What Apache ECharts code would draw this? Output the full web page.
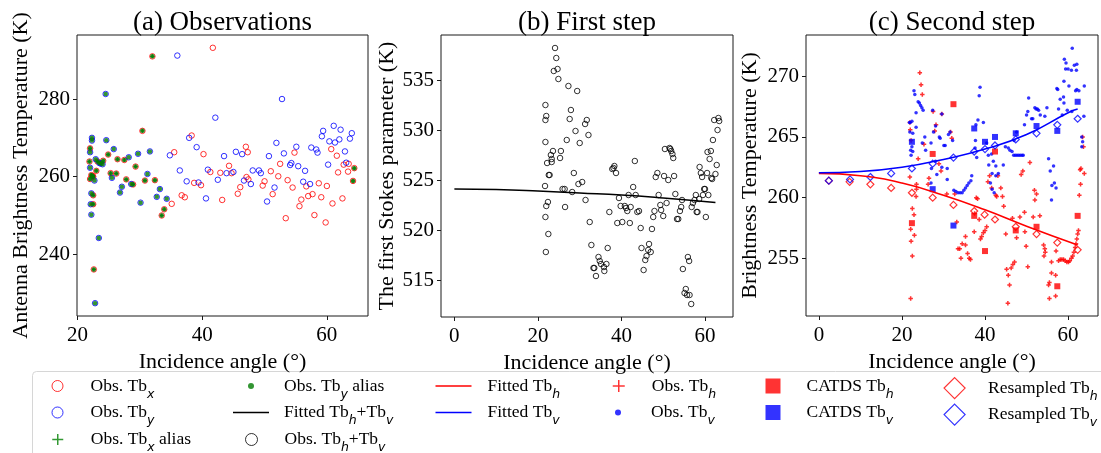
<!DOCTYPE html>
<html>
<head>
<meta charset="utf-8">
<script src="https://cdn.jsdelivr.net/npm/echarts@6/dist/echarts.min.js"></script>
<style>
  html, body { margin: 0; padding: 0; background: #fff; }
  #chart { width: 1101px; height: 453px; }
</style>
</head>
<body>
<div id="chart"></div>
<script>
// ---- data: [incidence angle, value] ----
// (a) observations
const obsTbx = [
  [41.7, 293.2], [38.3, 270.6], [35.5, 266.3], [40.2, 265.8], [35.1, 253.0], [36.7, 255.2], [37.2, 254.7],
  [38.7, 258.4], [39.8, 257.8], [41.3, 261.2], [42.9, 261.0], [43.2, 254.0], [44.3, 262.8], [44.7, 260.9],
  [45.7, 255.6], [46.1, 257.3], [47.1, 259.9], [47.4, 259.3], [47.0, 267.7], [47.3, 266.3], [49.7, 257.7],
  [50.0, 258.8], [51.0, 261.4], [51.3, 255.5], [52.2, 260.1], [52.5, 263.3], [53.4, 249.3], [53.7, 259.1],
  [54.5, 257.2], [54.8, 266.2], [55.6, 252.4], [55.9, 254.1], [56.7, 257.5], [57.0, 255.0], [57.7, 255.5],
  [58.0, 250.1], [58.7, 258.3], [59.1, 254.7], [59.8, 248.2], [60.0, 257.6], [60.7, 267.1], [60.9, 253.1],
  [61.6, 265.4], [61.8, 261.1], [62.5, 254.4], [62.7, 263.1], [63.4, 261.3], [63.5, 263.3]
];
const obsTbxAliased = [
  [32.0, 291.0], [30.4, 271.8], [22.0, 267.3], [24.9, 265.7], [21.9, 263.9], [24.1, 264.1], [23.2, 263.9],
  [26.4, 264.5], [27.5, 264.3], [29.3, 262.6], [23.0, 261.5], [22.2, 260.4], [22.5, 260.0], [22.0, 259.4],
  [25.3, 260.9], [26.2, 260.8], [27.8, 259.3], [30.8, 259.0], [32.4, 259.1], [28.9, 258.0], [22.5, 255.2],
  [22.5, 252.9], [33.9, 251.6], [33.5, 250.0], [22.6, 236.1], [64.4, 262.2], [64.2, 258.9], [22.4, 260.2]
];
const obsTby = [
  [36.0, 291.2], [52.8, 280.0], [42.1, 275.2], [37.9, 270.0], [39.1, 267.6], [34.8, 265.5], [36.4, 261.6],
  [37.5, 258.8], [39.4, 258.5], [40.6, 254.4], [40.9, 261.8], [42.5, 259.2], [43.5, 265.3], [43.9, 260.9],
  [45.0, 261.2], [45.4, 266.4], [46.4, 265.8], [46.7, 259.0], [47.8, 258.1], [48.1, 261.6], [49.1, 261.6],
  [49.4, 260.9], [50.4, 253.6], [50.7, 265.3], [51.6, 257.2], [51.9, 268.7], [53.1, 266.0], [54.1, 263.0],
  [54.3, 263.5], [55.1, 267.7], [55.4, 262.7], [56.2, 258.7], [56.5, 261.5], [57.3, 258.1], [57.5, 267.5],
  [58.3, 267.0], [58.5, 266.2], [59.2, 270.4], [59.4, 271.8], [60.2, 263.1], [60.4, 269.1], [61.1, 273.1],
  [61.3, 268.8], [62.0, 269.6], [62.2, 272.1], [62.9, 266.5], [63.1, 263.6], [63.7, 269.8], [64.0, 271.2]
];
const obsTbyAliased = [
  [24.5, 281.3], [22.3, 270.0], [22.3, 269.3], [24.6, 269.4], [22.0, 266.3], [25.8, 267.1], [22.9, 264.5],
  [23.7, 263.4], [28.2, 265.0], [29.7, 265.9], [31.6, 266.5], [22.0, 262.3], [22.7, 259.0], [25.5, 259.7],
  [31.2, 260.7], [28.6, 258.1], [27.1, 257.4], [26.8, 255.9], [33.2, 256.8], [32.7, 254.8], [22.2, 255.7],
  [22.1, 252.9], [34.3, 254.3], [30.1, 253.3], [22.2, 250.2], [23.4, 244.2], [22.8, 227.4], [23.5, 263.5],
  [24.0, 263.2]
];

// (b) first Stokes parameter
const obsTbhPlusTbv = [
  [24.1, 538.2], [24.4, 537.2], [23.8, 535.9], [24.7, 536.1], [24.9, 535.1], [27.3, 534.4], [29.4, 533.9],
  [21.8, 532.5], [22.0, 531.4], [21.8, 531.0], [27.9, 532.0], [27.6, 531.1], [31.7, 531.0], [31.3, 530.6],
  [29.0, 529.9], [32.1, 529.5], [26.9, 529.0], [30.0, 528.7], [21.8, 528.8], [23.6, 527.9], [25.5, 527.9],
  [23.1, 527.5], [25.3, 527.2], [23.3, 527.1], [23.3, 526.8], [22.2, 526.7], [22.6, 525.5], [22.8, 525.5],
  [28.6, 525.7], [30.6, 524.8], [29.7, 524.6], [21.7, 524.4], [25.9, 524.1], [26.4, 524.1], [28.2, 523.8],
  [31.4, 523.0], [22.4, 522.8], [22.0, 522.4], [26.5, 522.3], [21.8, 521.3], [22.5, 519.6], [21.9, 517.8],
  [32.4, 520.8], [32.8, 518.5], [33.3, 516.2], [33.5, 516.2], [34.5, 517.3], [34.8, 516.9], [33.9, 515.4],
  [35.1, 516.6], [35.8, 516.3], [35.9, 515.9], [36.4, 516.6], [36.7, 518.2], [37.1, 521.8], [37.8, 526.1],
  [38.3, 526.4], [38.1, 526.2], [38.7, 525.7], [39.4, 523.2], [39.8, 522.4], [39.0, 520.7], [40.2, 520.8],
  [40.8, 522.4], [41.1, 522.2], [41.4, 521.9], [42.2, 522.3], [42.0, 520.7], [41.7, 523.5], [42.8, 524.3],
  [43.2, 526.9], [43.4, 523.5], [43.8, 521.8], [44.2, 521.9], [44.6, 520.2], [44.8, 518.2], [45.3, 516.0],
  [45.7, 517.0], [46.0, 517.4], [46.4, 518.0], [46.6, 518.6], [47.0, 517.8], [47.3, 520.1], [47.6, 521.3],
  [47.9, 521.9], [48.2, 525.3], [48.6, 525.7], [48.9, 523.5], [49.3, 522.5], [49.5, 522.0], [50.0, 521.4],
  [50.4, 528.1], [50.2, 525.4], [50.8, 522.7], [51.2, 525.0], [51.5, 528.2], [51.7, 528.1], [51.9, 527.9],
  [52.2, 527.6], [52.4, 527.2], [52.6, 525.4], [52.9, 523.6], [53.3, 521.1], [53.6, 521.1], [54.0, 521.9],
  [54.3, 522.3], [54.5, 523.0], [54.7, 516.1], [55.1, 513.7], [55.4, 514.1], [55.7, 513.5], [55.9, 517.3],
  [56.2, 516.9], [56.3, 513.5], [56.7, 512.6], [56.8, 522.3], [57.1, 522.7], [57.5, 523.0], [57.8, 523.5],
  [58.0, 521.8], [58.2, 521.8], [58.6, 523.1], [58.7, 526.3], [59.0, 525.7], [59.3, 525.3], [59.5, 523.5],
  [59.8, 524.1], [60.0, 524.1], [60.2, 521.3], [60.5, 525.7], [60.6, 527.8], [61.1, 527.1], [61.4, 527.9],
  [60.8, 523.5], [61.5, 525.2], [61.7, 525.1], [61.9, 529.0], [62.2, 531.0], [62.5, 525.6], [62.8, 526.5],
  [63.0, 530.0], [63.2, 531.2], [63.4, 530.9]
];
const fittedTbhPlusTbv = [[0, 524.1], [10, 524.05], [20, 523.9], [30, 523.7], [40, 523.5], [50, 523.2], [62.5, 522.75]];

// (c) second step
const obsTbh = [
  [24.3, 270.3], [24.6, 269.3], [24.9, 268.5], [21.9, 266.2], [22.0, 265.6], [22.2, 264.7], [23.9, 263.2],
  [25.3, 264.4], [21.9, 261.7], [22.5, 259.1], [22.9, 258.6], [22.1, 257.4], [23.0, 256.9], [22.2, 256.4],
  [22.5, 255.2], [22.1, 251.7], [23.5, 260.7], [23.4, 260.1], [23.5, 261.1], [26.3, 261.1], [26.5, 261.6],
  [27.5, 267.1], [27.9, 265.5], [28.2, 266.0], [29.6, 266.9], [31.7, 265.4], [32.0, 264.9], [28.9, 262.8],
  [29.4, 262.2], [30.8, 260.3], [32.7, 260.3], [33.2, 258.0], [33.5, 255.8], [33.9, 255.8], [34.2, 255.0],
  [34.5, 256.2], [35.3, 256.1], [35.3, 256.8], [35.8, 255.4], [36.2, 255.0], [36.5, 254.9], [37.4, 257.2],
  [37.9, 260.0], [38.2, 259.9], [37.5, 258.7], [38.6, 258.2], [38.9, 256.6], [39.2, 256.8], [39.6, 257.1],
  [40.0, 257.3], [40.4, 257.6], [40.7, 261.3], [41.1, 261.8], [41.6, 260.8], [42.8, 260.1], [42.6, 260.2],
  [43.1, 261.8], [43.8, 260.8], [44.2, 260.1], [44.5, 259.3], [45.0, 257.0], [45.2, 254.1], [45.6, 253.6],
  [45.5, 251.3], [45.9, 252.8], [46.3, 254.2], [46.7, 254.5], [47.1, 254.7], [46.6, 258.3], [47.6, 256.7],
  [48.4, 258.4], [49.5, 258.8], [49.6, 257.2], [48.7, 261.9], [49.1, 262.2], [50.8, 262.9], [49.9, 256.0],
  [50.3, 254.3], [51.6, 258.4], [51.9, 260.6], [52.0, 259.8], [52.4, 260.3], [53.2, 258.5], [54.1, 256.1],
  [54.4, 255.8], [54.5, 255.5], [54.2, 255.2], [56.0, 254.7], [56.0, 253.8], [55.5, 253.0], [55.3, 252.8],
  [57.0, 253.6], [57.0, 251.9], [55.5, 251.7], [57.1, 255.6], [57.7, 254.8], [58.1, 254.9], [58.5, 254.9],
  [58.9, 254.9], [59.3, 254.8], [59.7, 254.7], [60.1, 254.7], [60.4, 254.8], [60.8, 255.0], [61.1, 255.2],
  [61.4, 255.5], [61.7, 255.9], [61.9, 256.2], [62.1, 256.6], [62.3, 257.0], [62.5, 257.3], [62.9, 262.3],
  [63.0, 261.1], [62.7, 260.2], [63.5, 265.0], [63.7, 264.2], [63.9, 262.0], [63.1, 262.4]
];
const obsTbv = [
  [22.0, 266.2], [22.4, 266.3], [22.9, 268.8], [23.1, 268.5], [23.4, 265.8], [22.6, 265.3], [22.4, 264.2],
  [22.6, 263.8], [22.2, 263.5], [22.1, 263.9], [21.8, 266.2], [21.9, 265.4], [23.4, 267.0], [23.9, 267.9],
  [24.2, 267.8], [24.5, 267.6], [24.8, 267.4], [25.1, 267.2], [24.9, 264.5], [25.5, 265.0], [25.7, 263.9],
  [27.0, 264.5], [27.1, 262.4], [27.0, 261.2], [28.1, 263.0], [28.4, 261.9], [29.0, 265.0], [29.6, 262.5],
  [30.1, 264.3], [30.9, 261.5], [31.2, 265.2], [27.4, 267.2], [28.1, 265.9], [27.6, 265.4], [29.2, 264.9],
  [30.4, 264.3], [31.6, 265.4], [32.2, 264.7], [30.9, 262.4], [29.6, 266.9], [32.5, 260.6], [33.0, 260.5],
  [33.5, 260.4], [34.0, 260.4], [34.5, 260.4], [34.9, 260.6], [35.3, 260.8], [35.7, 261.0], [36.1, 261.2],
  [36.6, 261.4], [38.8, 269.1], [38.6, 268.4], [37.8, 266.0], [38.3, 266.4], [39.6, 266.2], [37.7, 264.7],
  [37.6, 264.1], [38.0, 263.3], [36.8, 261.8], [40.4, 264.5], [40.8, 263.5], [41.6, 263.6], [42.0, 263.0],
  [42.6, 262.6], [41.7, 262.0], [41.3, 261.2], [41.7, 260.7], [42.2, 260.4], [43.2, 262.0], [44.4, 262.7],
  [44.9, 264.2], [45.6, 264.1], [46.0, 263.9], [46.5, 263.8], [46.9, 263.5], [47.3, 263.5], [47.7, 263.5],
  [48.1, 263.5], [48.5, 263.5], [48.9, 263.5], [49.2, 263.5], [47.0, 264.7], [47.6, 265.4], [49.5, 266.0],
  [50.5, 268.2], [50.0, 266.8], [51.2, 266.5], [52.0, 267.4], [52.3, 267.3], [52.6, 267.3], [52.9, 267.2],
  [53.3, 266.8], [54.4, 266.7], [54.9, 267.4], [51.5, 266.5], [50.3, 267.1], [55.3, 263.2], [55.7, 262.2],
  [56.0, 259.8], [56.1, 261.0], [56.7, 261.2], [57.1, 260.8], [56.5, 262.6], [57.5, 268.9], [58.1, 268.1],
  [57.3, 269.0], [58.9, 268.3], [59.0, 269.6], [59.1, 271.4], [59.5, 271.1], [59.4, 270.6], [59.8, 267.2],
  [60.0, 270.6], [60.8, 270.5], [61.0, 272.3], [61.5, 270.9], [62.0, 270.5], [62.1, 268.9], [62.6, 268.8],
  [60.2, 269.2], [61.8, 268.8], [63.9, 269.2], [57.7, 267.3], [59.0, 267.8], [58.6, 266.8], [60.9, 267.1],
  [63.8, 266.7], [63.3, 265.0], [63.5, 264.6], [63.3, 264.2], [62.1, 271.0], [40.9, 262.7], [42.6, 261.8]
];
const catdsTbh = [
  [22.4, 257.9], [27.4, 263.6], [32.4, 267.7], [37.4, 258.5], [40.0, 255.6], [42.4, 263.8], [47.4, 257.3],
  [52.4, 257.6], [57.4, 252.7], [62.3, 258.5]
];
const catdsTbv = [
  [22.4, 264.6], [27.4, 260.7], [32.4, 257.7], [37.4, 265.7], [40.0, 264.6], [42.4, 265.0], [47.4, 265.3],
  [52.4, 265.9], [57.4, 265.5], [62.3, 267.9]
];
const resampledTbh = [
  [2.4, 261.4], [7.4, 261.3], [12.4, 261.1], [17.4, 260.8], [22.4, 260.4], [27.4, 260.0], [32.4, 259.4],
  [37.4, 258.9], [39.9, 258.6], [42.4, 258.2], [47.4, 257.6], [52.4, 257.0], [57.4, 256.3], [62.3, 255.7]
];
const resampledTbv = [
  [2.4, 261.4], [7.5, 261.5], [12.4, 261.7], [17.4, 262.0], [22.4, 262.4], [27.4, 262.8], [32.4, 263.3],
  [37.4, 263.8], [40.0, 264.0], [42.4, 264.3], [47.4, 264.8], [52.4, 265.3], [57.4, 266.0], [62.3, 266.5]
];
const fittedTbh = [[0, 262.0], [10, 261.8], [20, 261.2], [30, 260.2], [40, 259.0], [50, 257.65], [62.3, 256.1]];
const fittedTbv = [[0, 262.05], [10, 262.15], [20, 262.5], [30, 263.15], [40, 264.0], [50, 265.2], [60, 267.0], [62.3, 267.3]];

// tick labels
const angleTicksA = [20, 40, 60];
const angleTicks = [0, 20, 40, 60];
const tbTicksA = [240, 260, 280];
const stokesTicks = [515, 520, 525, 530, 535];
const tbTicksC = [255, 260, 265, 270];

const FONT = 'Liberation Serif';
const INK = '#1a1a1a';
const PLUS = 'path://M5,0V10M0,5H10';
const SQUARE = 'path://M0,0H10V10H0Z';
const DIAMOND = 'path://M5,0L10,5L5,10L0,5Z';
const LINE = 'path://M0,0H36V1.5H0Z';

const chart = echarts.init(document.getElementById('chart'));

function xAxis(gridIndex, min, max, ticks) {
  return {
    type: 'value', gridIndex, min, max,
    name: 'Incidence angle (°)', nameLocation: 'middle', nameGap: 31,
    nameTextStyle: { fontFamily: FONT, fontSize: 22, color: '#000' },
    axisLine: { show: false, onZero: false },
    axisTick: { show: true, length: 4, customValues: ticks, lineStyle: { color: INK, width: 1 } },
    axisLabel: { customValues: ticks, fontFamily: FONT, fontSize: 21, color: '#000', margin: 9 },
    splitLine: { show: false }
  };
}

function yAxis(gridIndex, min, max, ticks, name, gap) {
  return {
    type: 'value', gridIndex, min, max,
    name, nameLocation: 'middle', nameGap: gap, nameRotate: 90,
    nameTextStyle: { fontFamily: FONT, fontSize: 22, color: '#000' },
    axisLine: { show: false, onZero: false },
    axisTick: { show: true, length: 4, customValues: ticks, lineStyle: { color: INK, width: 1 } },
    axisLabel: { customValues: ticks, fontFamily: FONT, fontSize: 21, color: '#000', margin: 7 },
    splitLine: { show: false }
  };
}

function scatter(name, idx, data, symbol, size, style, z) {
  return {
    type: 'scatter', name, xAxisIndex: idx, yAxisIndex: idx, data,
    symbol, symbolSize: size, itemStyle: style, z: z || 2,
    emphasis: { disabled: true }, animation: false
  };
}

function line(name, idx, data, color) {
  return {
    type: 'line', name, xAxisIndex: idx, yAxisIndex: idx, data,
    symbol: 'none', smooth: true, lineStyle: { color, width: 1.6 }, z: 5, animation: false
  };
}

const openRed = { color: 'transparent', borderColor: '#ff0000', borderWidth: 1 };
const openBlue = { color: 'transparent', borderColor: '#0000ff', borderWidth: 1 };

const series = [
  scatter('Obs. Tb_x', 0, obsTbx.concat(obsTbxAliased), 'circle', 5.5, openRed),
  scatter('Obs. Tb_y', 0, obsTby.concat(obsTbyAliased), 'circle', 5.5, openBlue),
  scatter('Obs. Tb_x alias', 0, obsTbxAliased, PLUS, 4, { color: 'transparent', borderColor: '#008000', borderWidth: 1.2 }, 3),
  scatter('Obs. Tb_y alias', 0, obsTbxAliased.concat(obsTbyAliased), 'circle', 4.5, { color: '#007a00' }, 4),
  line('Fitted Tb_h+Tb_v', 1, fittedTbhPlusTbv, '#000'),
  scatter('Obs. Tb_h+Tb_v', 1, obsTbhPlusTbv, 'circle', 5.5, { color: 'transparent', borderColor: '#000', borderWidth: 1 }),
  scatter('Obs. Tb_h', 2, obsTbh, PLUS, 4.5, { color: 'transparent', borderColor: '#ff0000', borderWidth: 1.5 }),
  scatter('Obs. Tb_v', 2, obsTbv, 'circle', 3.5, { color: '#0000ff' }),
  scatter('CATDS Tb_h', 2, catdsTbh, SQUARE, 6, { color: '#ff0000' }, 3),
  scatter('CATDS Tb_v', 2, catdsTbv, SQUARE, 6, { color: '#0000ff' }, 3),
  scatter('Resampled Tb_h', 2, resampledTbh, DIAMOND, 7, { color: 'transparent', borderColor: '#ff0000', borderWidth: 1.2 }, 4),
  scatter('Resampled Tb_v', 2, resampledTbv, DIAMOND, 7, { color: 'transparent', borderColor: '#0000ff', borderWidth: 1.2 }, 4),
  line('Fitted Tb_h', 2, fittedTbh, '#ff0000'),
  line('Fitted Tb_v', 2, fittedTbv, '#0000ff')
];

// legend entries: name, marker centre x, text start x, row, icon, icon height, style
const rows = [387, 413.5, 440.5];
const legendItems = [
  ['Obs. Tb_x', 57, 90, 0, 'circle', 11, openRed],
  ['Obs. Tb_y', 57, 90, 1, 'circle', 11, openBlue],
  ['Obs. Tb_x alias', 57, 90, 2, PLUS, 11, { color: 'transparent', borderColor: '#008000', borderWidth: 1.5 }],
  ['Obs. Tb_y alias', 251, 284, 0, 'circle', 6, { color: '#007a00' }],
  ['Fitted Tb_h+Tb_v', 251, 284, 1, LINE, 1.5, { color: '#000' }],
  ['Obs. Tb_h+Tb_v', 251, 284, 2, 'circle', 12, { color: 'transparent', borderColor: '#000', borderWidth: 1 }],
  ['Fitted Tb_h', 453.5, 487.5, 0, LINE, 1.5, { color: '#ff0000' }],
  ['Fitted Tb_v', 453.5, 487.5, 1, LINE, 1.5, { color: '#0000ff' }],
  ['Obs. Tb_h', 618, 651, 0, PLUS, 12, { color: 'transparent', borderColor: '#ff0000', borderWidth: 1.5 }],
  ['Obs. Tb_v', 618, 651, 1, 'circle', 6, { color: '#0000ff' }],
  ['CATDS Tb_h', 773, 806.5, 0, SQUARE, 15, { color: '#ff0000' }],
  ['CATDS Tb_v', 773, 806.5, 1, SQUARE, 15, { color: '#0000ff' }],
  ['Resampled Tb_h', 954, 987.5, 0, DIAMOND, 21, { color: 'transparent', borderColor: '#ff0000', borderWidth: 1.2 }],
  ['Resampled Tb_v', 954, 987.5, 1, DIAMOND, 21, { color: 'transparent', borderColor: '#0000ff', borderWidth: 1.2 }]
];

function richName(name) {
  return ('{m|' + name.replace(/_(\w)/g, '}{s|$1}{m|') + '}').replace('{m|}', '');
}

// the legend box is placed by its drawn content, so anchor on the visible icon width
const legends = legendItems.map(([name, cx, tx, row, icon, h, style]) => {
  const w = 2 * (tx - cx - 5);
  const visible = icon === LINE ? 36 : h;
  return {
    left: cx - visible / 2, top: rows[row] - 10,
    itemWidth: w, itemHeight: h, padding: 0,
    selectedMode: false, symbolKeepAspect: true,
    data: [{ name, icon, itemStyle: style }],
    formatter: richName,
    textStyle: {
      padding: [6, 0, 0, 0],
      rich: {
        m: { fontFamily: FONT, fontSize: 17.5, color: '#000', lineHeight: 24, verticalAlign: 'top' },
        s: { fontFamily: 'DejaVu Sans', fontStyle: 'italic', fontSize: 12.5, color: '#000', lineHeight: 14, verticalAlign: 'bottom' }
      }
    }
  };
});

const titleStyle = { fontFamily: FONT, fontSize: 27, fontWeight: 'normal', color: '#000' };

const option = {
  backgroundColor: '#fff',
  animation: false,
  title: [
    { text: '(a) Observations', left: 222.5, top: 9, textAlign: 'center', padding: 0, textStyle: titleStyle },
    { text: '(b) First step', left: 587, top: 9, textAlign: 'center', padding: 0, textStyle: titleStyle },
    { text: '(c) Second step', left: 952, top: 9, textAlign: 'center', padding: 0, textStyle: titleStyle }
  ],
  graphic: [{
    type: 'rect', left: 32, top: 371, z: 0,
    shape: { width: 1090, height: 100, r: 4 },
    style: { fill: '#fff', stroke: '#d6d6d6', lineWidth: 1 }
  }],
  grid: [
    { left: 77, top: 35, width: 291, height: 281, show: true, borderColor: INK, borderWidth: 1 },
    { left: 441, top: 35, width: 292, height: 282, show: true, borderColor: INK, borderWidth: 1 },
    { left: 806, top: 35, width: 292, height: 281, show: true, borderColor: INK, borderWidth: 1 }
  ],
  xAxis: [
    xAxis(0, 19.9, 66.6, angleTicksA),
    xAxis(1, -3.2, 66.7, angleTicks),
    xAxis(2, -3.1, 67.2, angleTicks)
  ],
  yAxis: [
    yAxis(0, 224.1, 296.5, tbTicksA, 'Antenna Brightness Temperature (K)', 45),
    yAxis(1, 511.3, 539.5, stokesTicks, 'The first Stokes parameter (K)', 42),
    yAxis(2, 250.25, 273.4, tbTicksC, 'Brightness Temperature (K)', 45)
  ],
  legend: legends,
  series
};

chart.setOption(option);
</script>
</body>
</html>
